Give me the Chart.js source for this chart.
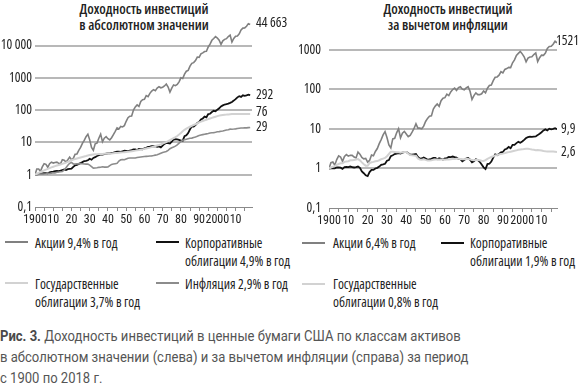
<!DOCTYPE html>
<html lang="ru">
<head>
<meta charset="utf-8">
<script src="https://cdn.jsdelivr.net/npm/chart.js@4.4.1/dist/chart.umd.min.js"></script>
<style>
  body { margin: 0; background: #fff; width: 579px; height: 392px; overflow: hidden; position: relative;
         font-family: 'Open Sans', sans-serif; font-stretch: condensed; color: #222; }
  .box { position: absolute; top: 0; height: 232px; }
  #leftBox { left: 0; width: 290px; }
  #rightBox { left: 290px; width: 289px; }
  .title { position: absolute; top: 1px; text-align: center; font-size: 14px; font-weight: 600; line-height: 16px; }
  .sw { position: absolute; height: 2px; width: 23px; }
  .lg { position: absolute; font-size: 13.5px; line-height: 18px; white-space: nowrap; }
  .caption { position: absolute; left: 0; top: 326px; font-family: Roboto, sans-serif; font-stretch: normal;
             font-size: 14.5px; line-height: 21px; color: #555; white-space: nowrap;
             transform: scaleX(0.9); transform-origin: 0 0; }
  .caption b { color: #4a4a4a; font-weight: 700; }
</style>
</head>
<body>

<div class="title" style="left:44px;width:200px;">Доходность инвестиций<br>в абсолютном значении</div>
<div class="title" style="left:348px;width:200px;">Доходность инвестиций<br>за вычетом инфляции</div>

<div class="box" id="leftBox"><canvas id="leftChart"></canvas></div>
<div class="box" id="rightBox"><canvas id="rightChart"></canvas></div>

<!-- legends -->
<div class="sw" style="left:5px;top:241px;background:#808080"></div>
<div class="lg" style="left:35px;top:234px">Акции 9,4% в год</div>
<div class="sw" style="left:156px;top:241px;background:#111"></div>
<div class="lg" style="left:185px;top:234px">Корпоративные<br>облигации 4,9% в год</div>
<div class="sw" style="left:5px;top:282px;background:#d2d2d2"></div>
<div class="lg" style="left:35px;top:275px">Государственные<br>облигации 3,7% в год</div>
<div class="sw" style="left:156px;top:282px;background:#8c8c8c"></div>
<div class="lg" style="left:185px;top:275px">Инфляция 2,9% в год</div>

<div class="sw" style="left:302px;top:242px;background:#808080"></div>
<div class="lg" style="left:333px;top:234px">Акции 6,4% в год</div>
<div class="sw" style="left:441px;top:242px;background:#111"></div>
<div class="lg" style="left:470px;top:234px">Корпоративные<br>облигации 1,9% в год</div>
<div class="sw" style="left:302px;top:283px;background:#d2d2d2"></div>
<div class="lg" style="left:333px;top:275px">Государственные<br>облигации 0,8% в год</div>

<div class="caption"><b>Рис. 3.</b> Доходность инвестиций в ценные бумаги США по классам активов<br>в абсолютном значении (слева) и за вычетом инфляции (справа) за период<br>с 1900 по 2018 г.</div>

<script>
// years 1900..2018, one value per year
const startYear = 1900;

// nominal (left chart)
const stocksNominal = [
  1.00, 1.50, 1.50, 1.27, 1.75, 2.20, 2.10, 1.70, 2.20, 2.45,
  2.30, 2.40, 2.45, 2.25, 2.17, 2.90, 2.80, 2.45, 2.90, 3.50,
  2.90, 3.20, 4.30, 4.40, 5.70, 7.00, 9.30, 11.5, 15.0, 18.0,
  12.0, 7.0, 5.7, 9.0, 9.5, 13.5, 18.0, 10.5, 13.5, 15.0,
  13.0, 12.0, 14.0, 17.5, 22.0, 28.0, 26.0, 31.0, 30.0, 33.0,
  45, 58, 65, 66, 100, 125, 145, 130, 185, 210,
  215, 280, 260, 330, 390, 430, 400, 480, 530, 490,
  510, 560, 640, 520, 360, 480, 600, 570, 620, 750,
  1000, 950, 1300, 1600, 1700, 2300, 2800, 2950, 3400, 4400,
  4300, 5500, 5900, 6500, 6600, 9000, 11000, 14500, 16500, 19000,
  17000, 14500, 10800, 14000, 15500, 16300, 19000, 21000, 12800, 16500,
  19500, 19800, 23000, 30500, 34500, 35000, 39500, 47500, 44663
];
const corpNominal = [
  1.00, 1.02, 1.05, 1.06, 1.10, 1.12, 1.12, 1.10, 1.18, 1.22,
  1.24, 1.28, 1.30, 1.28, 1.33, 1.40, 1.46, 1.39, 1.48, 1.51,
  1.54, 1.74, 1.95, 2.00, 2.16, 2.31, 2.45, 2.65, 2.69, 2.80,
  3.11, 2.90, 3.30, 3.49, 3.80, 4.00, 4.21, 4.21, 4.35, 4.45,
  4.55, 4.60, 4.70, 4.79, 4.99, 5.20, 5.19, 5.10, 5.30, 5.51,
  5.50, 5.40, 5.61, 5.81, 6.10, 6.09, 5.80, 6.32, 6.21, 6.08,
  6.59, 6.79, 7.31, 7.39, 7.70, 7.59, 7.60, 7.28, 7.48, 7.02,
  8.00, 8.99, 9.62, 9.49, 9.20, 10.5, 12.3, 12.5, 12.4, 12.0,
  11.4, 11.3, 15.5, 16.5, 19.5, 25.5, 31.0, 31.0, 34.5, 40.0,
  43.0, 51.0, 55.0, 63.0, 60.0, 75.0, 77.0, 87.0, 95.0, 92.0,
  103, 114, 130, 140, 149, 152, 158, 167, 179, 197,
  218, 248, 270, 256, 286, 275, 285, 300, 292
];
const govNominal = [
  1.00, 1.07, 1.14, 1.21, 1.28, 1.36, 1.44, 1.52, 1.60, 1.68,
  1.76, 1.84, 1.92, 2.00, 2.08, 2.16, 2.25, 2.36, 2.50, 2.65,
  2.80, 2.94, 3.06, 3.18, 3.30, 3.42, 3.54, 3.66, 3.78, 3.92,
  4.05, 4.15, 4.22, 4.27, 4.31, 4.35, 4.38, 4.41, 4.44, 4.47,
  4.50, 4.53, 4.57, 4.62, 4.67, 4.72, 4.78, 4.84, 4.91, 4.99,
  5.08, 5.17, 5.26, 5.36, 5.46, 5.56, 5.68, 5.80, 5.96, 6.08,
  6.30, 6.50, 6.70, 6.90, 7.15, 7.40, 7.70, 8.00, 8.30, 8.70,
  9.20, 9.70, 10.2, 10.9, 11.8, 12.7, 13.6, 14.6, 15.8, 17.5,
  19.5, 22.0, 24.5, 26.5, 28.5, 30.5, 32.5, 34.5, 36.5, 39.0,
  41.5, 44.0, 46.0, 48.0, 50.0, 52.5, 55.0, 57.5, 60.0, 62.5,
  65.0, 67.5, 69.5, 71.0, 72.0, 72.5, 73.5, 74.5, 75.1, 75.2,
  75.3, 75.3, 75.4, 75.4, 75.4, 75.5, 75.6, 75.8, 76.0
];
const inflation = [
  1.00, 1.01, 1.03, 1.05, 1.04, 1.05, 1.07, 1.12, 1.09, 1.12,
  1.15, 1.14, 1.19, 1.21, 1.23, 1.25, 1.40, 1.65, 1.95, 2.25,
  2.40, 2.15, 2.12, 2.17, 2.16, 2.22, 2.19, 2.14, 2.12, 2.12,
  1.98, 1.78, 1.60, 1.61, 1.64, 1.69, 1.71, 1.76, 1.72, 1.72,
  1.73, 1.90, 2.08, 2.14, 2.19, 2.24, 2.65, 2.88, 2.96, 2.90,
  3.07, 3.25, 3.28, 3.30, 3.28, 3.29, 3.39, 3.49, 3.55, 3.60,
  3.66, 3.69, 3.73, 3.79, 3.83, 3.91, 4.04, 4.16, 4.35, 4.62,
  4.88, 5.05, 5.23, 5.68, 6.39, 6.85, 7.19, 7.68, 8.38, 9.49,
  10.7, 11.6, 12.0, 12.5, 13.0, 13.5, 13.6, 14.2, 14.8, 15.5,
  16.4, 16.9, 17.4, 17.9, 18.4, 18.9, 19.5, 19.8, 20.1, 20.6,
  21.3, 21.6, 22.1, 22.5, 23.3, 24.1, 24.7, 25.7, 25.6, 25.9,
  26.3, 27.0, 27.5, 27.8, 28.0, 28.1, 28.2, 28.6, 29.0
];

// real (right chart)
const stocksReal = [
  1.00, 1.40, 1.46, 1.21, 1.68, 2.10, 1.96, 1.52, 2.02, 2.25,
  2.05, 2.15, 2.15, 1.95, 1.85, 2.60, 2.30, 1.90, 1.75, 1.80,
  1.45, 1.60, 2.20, 2.10, 2.70, 3.20, 4.25, 5.40, 7.10, 8.60,
  6.10, 3.95, 3.30, 5.60, 5.80, 8.00, 10.2, 6.00, 7.85, 8.70,
  7.50, 6.40, 6.90, 8.30, 10.3, 13.5, 10.5, 10.5, 10.1, 11.8,
  15.5, 18.5, 21.0, 21.5, 32.0, 38.0, 43.0, 37.5, 52.0, 60.0,
  62.0, 76.0, 70.0, 87.0, 100, 108, 95, 112, 118, 102,
  98, 110, 118, 90, 56.0, 70.0, 82.0, 74.0, 74.0, 78.0,
  92.0, 82.0, 108, 126, 130, 168, 204, 208, 230, 282,
  262, 322, 338, 362, 358, 475, 562, 730, 820, 920,
  798, 671, 500, 622, 665, 676, 769, 840, 510, 637,
  741, 733, 836, 1097, 1232, 1246, 1401, 1661, 1521
];
const corpReal = [
  1.00, 1.01, 1.02, 1.01, 1.06, 1.07, 1.05, 0.98, 1.08, 1.09,
  1.08, 1.12, 1.09, 1.06, 1.08, 1.12, 1.04, 0.84, 0.76, 0.67,
  0.64, 0.81, 0.92, 0.92, 1.00, 1.04, 1.12, 1.24, 1.27, 1.32,
  1.57, 1.63, 2.06, 2.17, 2.32, 2.37, 2.46, 2.39, 2.53, 2.59,
  2.63, 2.42, 2.26, 2.24, 2.28, 2.32, 1.96, 1.77, 1.79, 1.90,
  1.79, 1.66, 1.71, 1.76, 1.86, 1.85, 1.71, 1.81, 1.75, 1.69,
  1.80, 1.84, 1.96, 1.95, 2.01, 1.94, 1.88, 1.75, 1.72, 1.52,
  1.64, 1.78, 1.84, 1.67, 1.44, 1.53, 1.71, 1.63, 1.48, 1.26,
  1.07, 0.97, 1.29, 1.32, 1.50, 1.89, 2.28, 2.18, 2.33, 2.58,
  2.62, 3.02, 3.16, 3.52, 3.26, 3.97, 3.95, 4.39, 4.73, 4.47,
  4.84, 5.30, 5.90, 6.20, 6.40, 6.30, 6.40, 6.50, 7.00, 7.60,
  8.30, 9.20, 9.80, 9.20, 10.2, 9.80, 10.1, 10.5, 9.90
];
const govReal = [
  1.00, 1.06, 1.11, 1.15, 1.23, 1.30, 1.35, 1.36, 1.47, 1.50,
  1.53, 1.61, 1.61, 1.65, 1.69, 1.73, 1.61, 1.43, 1.28, 1.18,
  1.17, 1.37, 1.44, 1.47, 1.53, 1.54, 1.62, 1.71, 1.78, 1.85,
  2.05, 2.33, 2.64, 2.65, 2.63, 2.57, 2.56, 2.51, 2.58, 2.60,
  2.60, 2.38, 2.20, 2.16, 2.13, 2.11, 1.80, 1.68, 1.66, 1.72,
  1.65, 1.59, 1.60, 1.62, 1.66, 1.69, 1.68, 1.66, 1.68, 1.69,
  1.66, 1.68, 1.70, 1.72, 1.74, 1.75, 1.76, 1.76, 1.75, 1.72,
  1.72, 1.73, 1.74, 1.70, 1.63, 1.62, 1.64, 1.64, 1.62, 1.57,
  1.55, 1.63, 1.76, 1.85, 1.95, 2.04, 2.15, 2.20, 2.26, 2.34,
  2.38, 2.45, 2.53, 2.60, 2.66, 2.74, 2.80, 2.88, 2.97, 3.02,
  3.05, 3.12, 3.14, 3.16, 3.09, 3.01, 2.98, 2.90, 2.93, 2.90,
  2.86, 2.79, 2.74, 2.71, 2.69, 2.69, 2.68, 2.65, 2.62
];

// axis ticks and labels
const xTicks = [1900, 1905, 1910, 1915, 1920, 1925, 1930, 1935, 1940, 1945, 1950, 1955,
                1960, 1965, 1970, 1975, 1980, 1985, 1990, 1995, 2000, 2005, 2010, 2015];
const xTickLabels = { 1900: '1900', 1910: '10', 1920: '20', 1930: '30', 1940: '40', 1950: '50',
                      1960: '60', 1970: '70', 1980: '80', 1990: '90', 2000: '2000', 2010: '10' };
const yTicksLeft = [0.1, 1, 10, 100, 1000, 10000];
const yLabelsLeft = ['0,1', '1', '10', '100', '1000', '10 000'];
const yTicksRight = [0.1, 1, 10, 100, 1000];
const yLabelsRight = ['0,1', '1', '10', '100', '1000'];
const endLabelsLeft = ['76', '29', '292', '44 663'];
const endLabelsRight = ['2,6', '9,9', '1521'];

const FONT = "'Open Sans', sans-serif";
// Chart.js only checks font.style, so the width keyword rides along in weight
const NARROW = '400 condensed';
Chart.defaults.font.family = FONT;
Chart.defaults.color = '#222';

const toPoints = arr => arr.map((v, i) => ({ x: startYear + i, y: v }));

function line(data, color, width, endLabel, shift) {
  return {
    data: toPoints(data),
    borderColor: color,
    borderWidth: width,
    pointRadius: 0,
    tension: 0,
    endLabel: endLabel,
    endShift: shift || 0
  };
}

// value labels at the right end of each line
const endLabelPlugin = {
  id: 'endLabels',
  afterDatasetsDraw(chart) {
    const { ctx, chartArea } = chart;
    ctx.save();
    ctx.font = 'condensed 13.5px ' + FONT;
    ctx.fillStyle = '#222';
    ctx.textBaseline = 'middle';
    chart.data.datasets.forEach((ds, i) => {
      if (!ds.endLabel) return;
      const pts = chart.getDatasetMeta(i).data;
      const last = pts[pts.length - 1];
      const w = ctx.measureText(ds.endLabel).width;
      const x = Math.min(chartArea.right + 4, chart.width - w);
      ctx.fillText(ds.endLabel, x, last.y + ds.endShift);
    });
    ctx.restore();
  }
};

function makeChart(id, datasets, o) {
  return new Chart(document.getElementById(id), {
    type: 'line',
    data: { datasets },
    plugins: [endLabelPlugin],
    options: {
      responsive: true,
      maintainAspectRatio: false,
      animation: false,
      layout: { padding: { top: o.padTop, right: o.padRight, left: 0, bottom: 0 } },
      plugins: { legend: { display: false }, tooltip: { enabled: false } },
      scales: {
        x: {
          type: 'linear',
          min: startYear,
          max: o.xMax,
          afterBuildTicks: s => { s.ticks = xTicks.map(v => ({ value: v })); },
          afterFit: s => { s.height = o.xHeight; },
          ticks: {
            autoSkip: false, maxRotation: 0, padding: 2,
            font: { size: 12, family: "Roboto, sans-serif", weight: NARROW }, color: '#222',
            callback: v => xTickLabels[v] || ''
          },
          grid: { drawOnChartArea: false, drawTicks: true, tickLength: 4, color: '#8a8a8a', lineWidth: 1 },
          border: { display: true, color: '#8a8a8a', width: 1 }
        },
        y: {
          type: 'logarithmic',
          min: 0.1,
          max: o.yMax,
          afterBuildTicks: s => { s.ticks = o.yTicks.map(v => ({ value: v })); },
          afterFit: s => { s.width = o.yWidth; },
          ticks: {
            padding: o.yPad, font: { size: 13.5, family: FONT, weight: NARROW }, color: '#222',
            callback: v => o.yLabels[o.yTicks.indexOf(v)]
          },
          grid: {
            drawTicks: false,
            lineWidth: 2,
            color: c => (c.tick && c.tick.value === 0.1) ? 'rgba(0,0,0,0)' : '#b8b8b8'
          },
          border: { display: false }
        }
      }
    }
  });
}

makeChart('leftChart', [
  line(govNominal, '#d2d2d2', 2, endLabelsLeft[0], -2),
  line(inflation, '#8c8c8c', 1.6, endLabelsLeft[1], 0),
  line(corpNominal, '#111111', 1.8, endLabelsLeft[2], 0),
  line(stocksNominal, '#808080', 1.6, endLabelsLeft[3], -1)
], { padTop: 20, padRight: 38, xMax: 2019, xHeight: 25, yMax: 61600, yTicks: yTicksLeft, yLabels: yLabelsLeft, yWidth: 35, yPad: 3 });

makeChart('rightChart', [
  line(govReal, '#d2d2d2', 2, endLabelsRight[0], 0),
  line(corpReal, '#111111', 1.8, endLabelsRight[1], 0),
  line(stocksReal, '#808080', 1.6, endLabelsRight[2], -2)
], { padTop: 34, padRight: 22, xMax: 2018, xHeight: 24, yMax: 2540, yTicks: yTicksRight, yLabels: yLabelsRight, yWidth: 39, yPad: 8 });
</script>
</body>
</html>
